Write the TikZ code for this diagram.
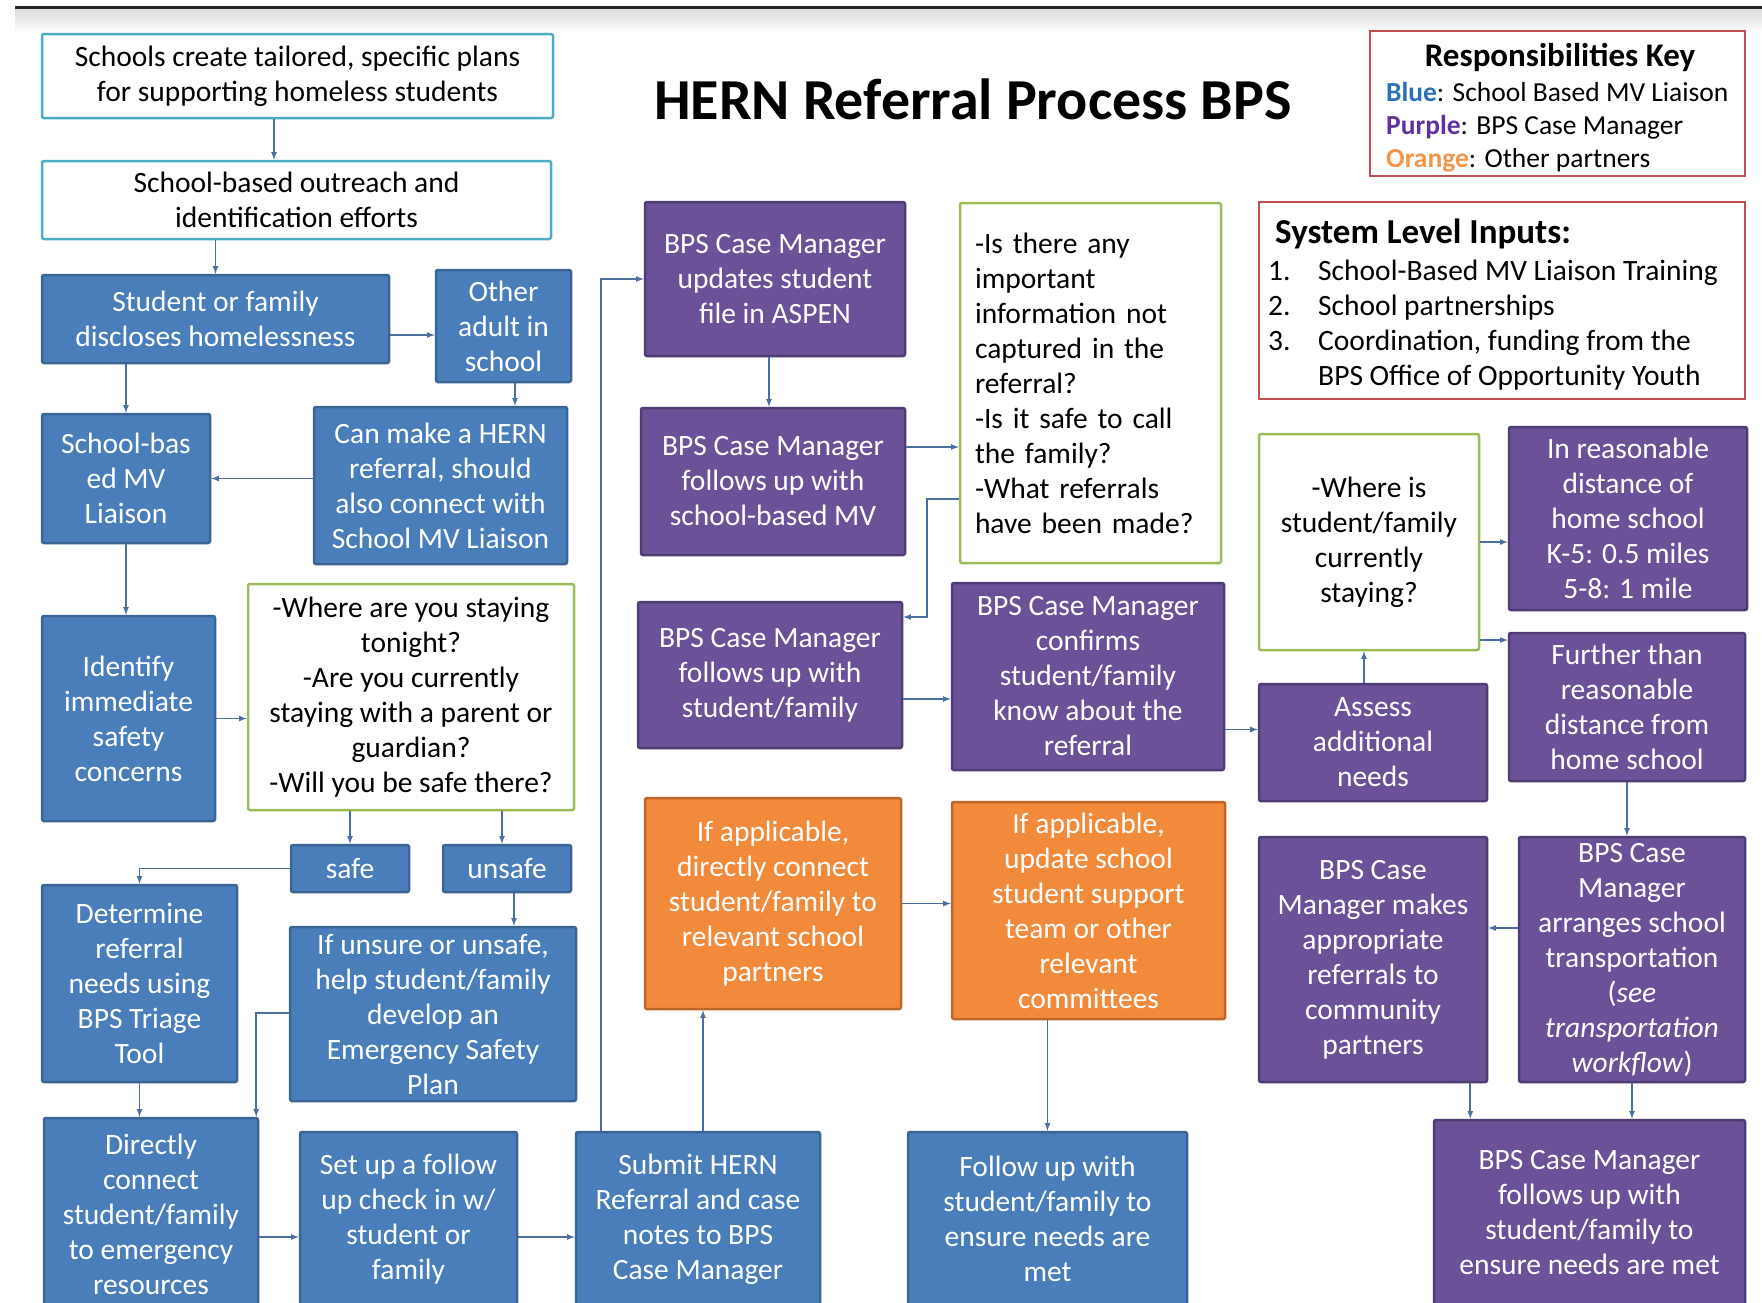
\documentclass[tikz,border=0pt]{standalone}
\usepackage{fontspec}
\setmainfont{Carlito}
\definecolor{bluefill}{HTML}{4A7EBB}
\definecolor{blueline}{HTML}{3A6494}
\definecolor{purplefill}{HTML}{6B5298}
\definecolor{purpleline}{HTML}{503C74}
\definecolor{orangefill}{HTML}{F28A3C}
\definecolor{orangeline}{HTML}{BE652A}
\definecolor{greenline}{HTML}{9BBB59}
\definecolor{cyanline}{HTML}{4BACC6}
\definecolor{redline}{HTML}{C0504D}
\definecolor{connline}{HTML}{4A6FA0}
\definecolor{keyblue}{HTML}{2C6FB7}
\definecolor{keypurple}{HTML}{6030A0}
\definecolor{keyorange}{HTML}{F0954A}
\begin{document}
\begin{tikzpicture}[x=1pt, y=-1pt, >=latex,
    box/.style={rectangle, rounded corners=2pt, line width=2.5pt, align=center,
        inner sep=0pt, font=\fontsize{29.5}{35}\selectfont},
    wh/.style 2 args={minimum width=#1pt, minimum height=#2pt},
    bluebox/.style={box, draw=blueline, fill=bluefill, text=white},
    purplebox/.style={box, draw=purpleline, fill=purplefill, text=white},
    orangebox/.style={box, draw=orangeline, fill=orangefill, text=white},
    greenbox/.style={box, draw=greenline, fill=white, text=black},
    cyanbox/.style={box, draw=cyanline, fill=white, text=black},
    conn/.style={->, draw=connline, line width=1.6pt}]
\useasboundingbox (0,0) rectangle (1762,1302);
\clip (0,0) rectangle (1762,1302);
\shade[top color=black!14, bottom color=white] (15,8) rectangle (1762,34);
\draw[line width=3pt, black!85] (15,7) -- (1762,7);

\node[font=\bfseries\fontsize{58}{68}\selectfont] (title) at (973,99) {HERN Referral Process BPS};

\node[draw=redline, line width=2.5pt, wh={375}{145}] (key) at (1557.5,103.5) {};
\node[font=\bfseries\fontsize{33}{38}\selectfont] (keytitle) at (1560,57) {Responsibilities Key};
\node[anchor=west, align=left, inner sep=0pt, font=\fontsize{27.5}{33}\selectfont] (keytext) at (1386,127)
    {\textbf{\color{keyblue}Blue}: School Based MV Liaison\\
     \textbf{\color{keypurple}Purple}: BPS Case Manager\\
     \textbf{\color{keyorange}Orange}: Other partners};
\node[draw=redline, line width=2.5pt, wh={486}{197}] (inputs) at (1502,300.5) {};
\node[anchor=west, inner sep=0pt, font=\bfseries\fontsize{35}{40}\selectfont] (inputstitle) at (1275,234) {System Level Inputs:};
\node[anchor=west, align=left, inner sep=0pt, font=\fontsize{29.5}{35}\selectfont] (inputlist) at (1268,325)
    {\makebox[50pt][l]{1.}School-Based MV Liaison Training\\
     \makebox[50pt][l]{2.}School partnerships\\
     \makebox[50pt][l]{3.}Coordination, funding from the\\
     \makebox[50pt][l]{}BPS Office of Opportunity Youth};

\node[cyanbox, wh={511}{84}] (plans) at (297.5,76) {Schools create tailored, specific plans\\for supporting homeless students};
\node[cyanbox, wh={509}{78}] (outreach) at (296.5,200) {School-based outreach and\\identification efforts};
\node[bluebox, wh={347}{88}] (disclose) at (215.5,319) {Student or family\\discloses homelessness};
\node[bluebox, wh={135}{112}] (adult) at (503.5,326) {Other\\adult in\\school};
\node[bluebox, wh={168}{129}] (liaison) at (126,478.5) {School-bas\\ed MV\\Liaison};
\node[bluebox, wh={253}{157}] (canmake) at (440.5,485.5) {Can make a HERN\\referral, should\\also connect with\\School MV Liaison};
\node[bluebox, wh={173}{205}] (identify) at (128.5,718.5) {Identify\\immediate\\safety\\concerns};
\node[greenbox, wh={326}{226}] (askstay) at (411,697) {-Where are you staying\\tonight?\\-Are you currently\\staying with a parent or\\guardian?\\-Will you be safe there?};
\node[bluebox, wh={118}{47}] (safe) at (350,868.5) {safe};
\node[bluebox, wh={128}{47}] (unsafe) at (507,868.5) {unsafe};
\node[bluebox, wh={195}{197}] (triage) at (139.5,983.5) {Determine\\referral\\needs using\\BPS Triage\\Tool};
\node[bluebox, wh={286}{174}] (plan) at (433,1014) {If unsure or unsafe,\\help student/family\\develop an\\Emergency Safety\\Plan};
\node[bluebox, wh={214}{192}] (emerg) at (151,1214) {Directly\\connect\\student/family\\to emergency\\resources};
\node[bluebox, wh={217}{174}] (followup) at (408.5,1219) {Set up a follow\\up check in w/\\student or\\family};
\node[bluebox, wh={244}{174}] (submit) at (698,1219) {Submit HERN\\Referral and case\\notes to BPS\\Case Manager};
\node[bluebox, wh={279}{174}] (ensure) at (1047.5,1219) {Follow up with\\student/family to\\ensure needs are\\met};

\node[purplebox, wh={260}{154}] (aspen) at (775,279) {BPS Case Manager\\updates student\\file in ASPEN};
\node[purplebox, wh={264}{147}] (cmmv) at (773,481.5) {BPS Case Manager\\follows up with\\school-based MV};
\node[greenbox, wh={261}{360}, align=left, text width=231pt] (askinfo) at (1090.5,383) {-Is there any\\important\\information not\\captured in the\\referral?\\-Is it safe to call\\the family?\\-What referrals\\have been made?};
\node[purplebox, wh={264}{146}] (cmsf) at (770,675) {BPS Case Manager\\follows up with\\student/family};
\node[purplebox, wh={272}{187}] (confirm) at (1088,676.5) {BPS Case Manager\\confirms\\student/family\\know about the\\referral};
\node[orangebox, wh={256}{211}] (orange1) at (773,903.5) {If applicable,\\directly connect\\student/family to\\relevant school\\partners};
\node[orangebox, wh={273}{217}] (orange2) at (1088.5,910.5) {If applicable,\\update school\\student support\\team or other\\relevant\\committees};

\node[greenbox, wh={220}{216}] (where) at (1369,542) {-Where is\\student/family\\currently\\staying?};
\node[purplebox, wh={238}{183}] (near) at (1628,518.5) {In reasonable\\distance of\\home school\\K-5: 0.5 miles\\5-8: 1 mile};
\node[purplebox, wh={228}{117}] (assess) at (1373,742.5) {Assess\\additional\\needs};
\node[purplebox, wh={236}{148}] (far) at (1627,707) {Further than\\reasonable\\distance from\\home school};
\node[purplebox, wh={228}{245}] (community) at (1373,959.5) {BPS Case\\Manager makes\\appropriate\\referrals to\\community\\partners};
\node[purplebox, wh={226}{245}] (transport) at (1632,959.5) {BPS Case\\Manager\\arranges school\\transportation\\(\textit{see}\\\textit{transportation}\\\textit{workflow})};
\node[purplebox, wh={311}{186}] (final) at (1589.5,1213) {BPS Case Manager\\follows up with\\student/family to\\ensure needs are met};

\draw[conn] ([xshift=-23.5pt]plans.south) -- ([xshift=-23.5pt]plans.south |- outreach.north);
\draw[conn] (disclose.north |- outreach.south) -- (disclose.north);
\draw[conn] ([yshift=-16pt]disclose.east) -- ([yshift=-16pt]disclose.east -| adult.west);
\draw[conn] ([xshift=11.5pt]adult.south) -- ([xshift=11.5pt]adult.south |- canmake.north);
\draw[conn] (canmake.west |- liaison.east) -- (liaison.east);
\draw[conn] (liaison.north |- disclose.south) -- (liaison.north);
\draw[conn] (liaison.south) -- (liaison.south |- identify.north);
\draw[conn] (identify.east) -- (identify.east -| askstay.west);
\draw[conn] (safe.north |- askstay.south) -- (safe.north);
\draw[conn] ([xshift=-5pt]unsafe.north |- askstay.south) -- ([xshift=-5pt]unsafe.north);
\draw[conn] (safe.west) -| (triage.north);
\draw[conn] ([xshift=7pt]unsafe.south) -- ([xshift=7pt]unsafe.south |- plan.north);
\draw[conn] ([yshift=1pt]plan.west) -| ([xshift=-3pt]emerg.north east);
\draw[conn] (triage.south) -- (triage.south |- emerg.north);
\draw[conn] ([yshift=-23pt]emerg.east) -- ([yshift=-23pt]emerg.east -| followup.west);
\draw[conn] ([yshift=-18pt]followup.east) -- ([yshift=-18pt]followup.east -| submit.west);
\draw[conn] ([xshift=5pt]submit.north) -- ([xshift=5pt]submit.north |- orange1.south);
\draw[conn] ([xshift=26pt]submit.north west) |- (aspen.west);
\draw[conn] ([xshift=-6pt]aspen.south) -- ([xshift=-6pt]aspen.south |- cmmv.north);
\draw[conn] ([yshift=34.5pt]cmmv.east) -- ([yshift=34.5pt]cmmv.east -| askinfo.west);
\draw[conn] ([yshift=-116pt]askinfo.west) -- ++(-32,0) |- ([yshift=58pt]cmsf.east);
\draw[conn] ([yshift=-24pt]cmsf.east) -- ([yshift=-24pt]cmsf.east -| confirm.west);
\draw[conn] ([yshift=-53pt]confirm.east) -- ([yshift=-53pt]confirm.east -| assess.west);
\draw[conn] (orange1.east) -- (orange1.east -| orange2.west);
\draw[conn] (ensure.north |- orange2.south) -- (ensure.north);
\draw[conn] ([xshift=-9pt]assess.north) -- ([xshift=-9pt]assess.north |- where.south);
\draw[conn] (where.east) -- (where.east -| near.west);
\draw[conn] ([yshift=-98pt]where.east) -- ([yshift=-98pt]where.east -| far.west);
\draw[conn] (far.south) -- (far.south |- transport.north);
\draw[conn] ([yshift=31.5pt]transport.west) -- ([yshift=31.5pt]transport.west -| community.east);
\draw[conn] ([xshift=-18pt]community.south east) -- ([xshift=-18pt]community.south east |- final.north);
\draw[conn] (transport.south) -- (transport.south |- final.north);
\end{tikzpicture}
\end{document}
